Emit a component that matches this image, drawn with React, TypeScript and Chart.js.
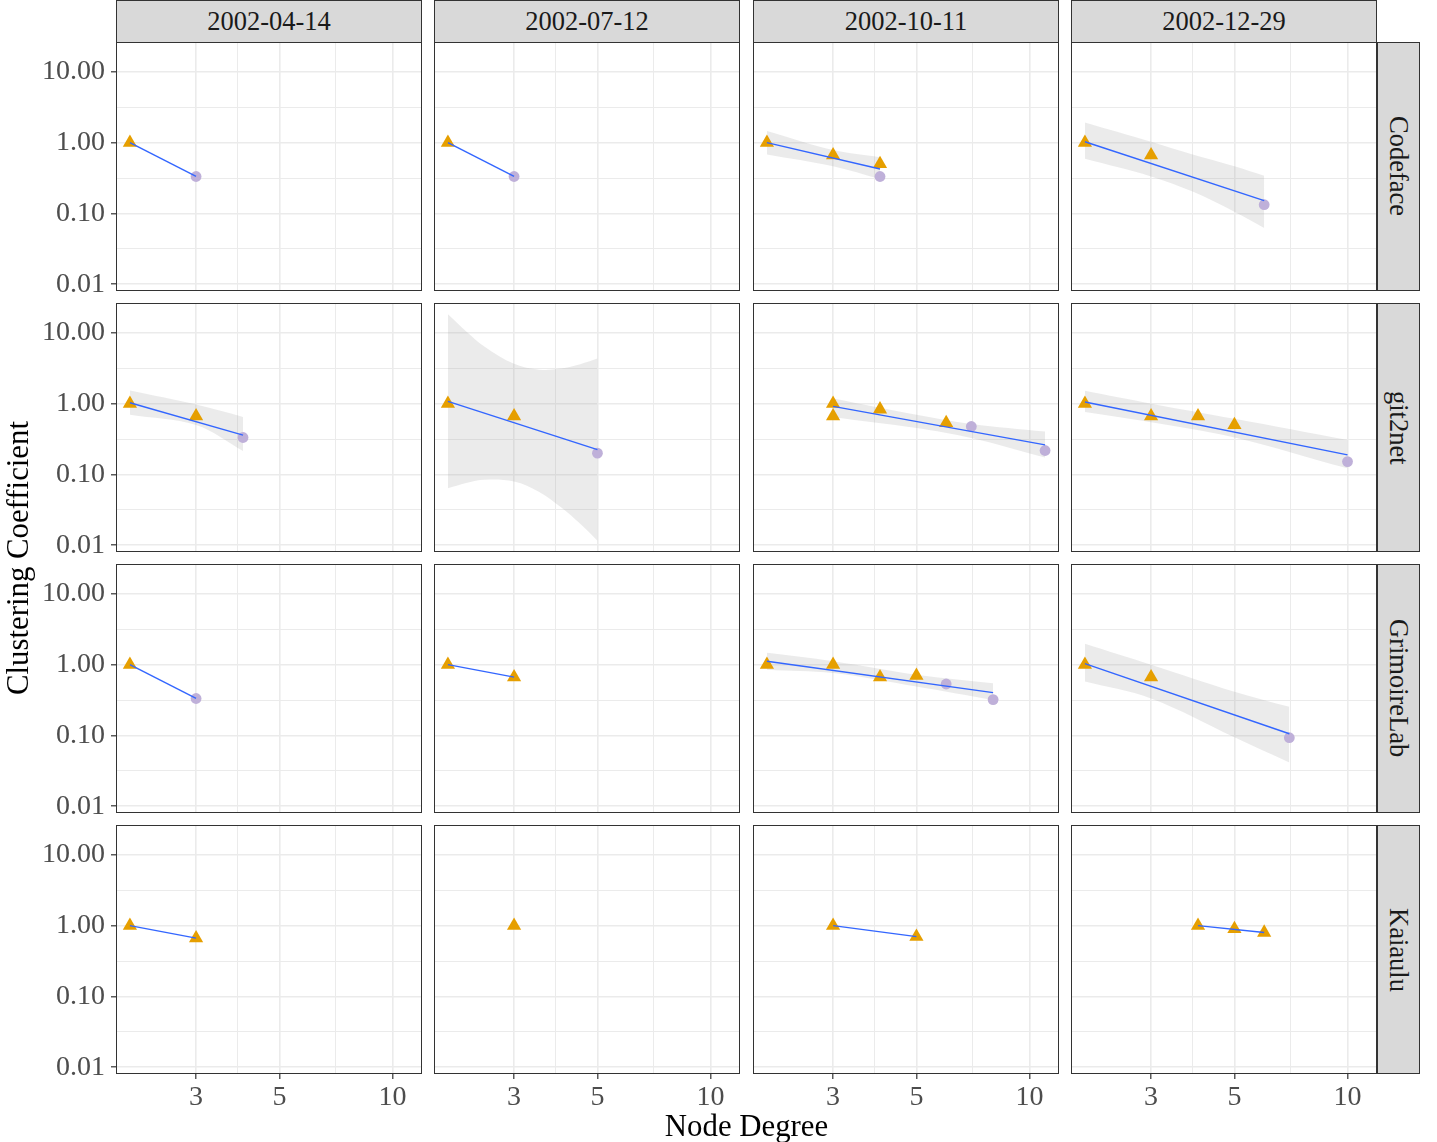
import React, { useEffect, useRef } from "react";
import { Chart, registerables } from "chart.js";

Chart.register(...registerables);

// ---------- data ----------
const projects = ["Codeface", "git2net", "GrimoireLab", "Kaiaulu"];
const dates = ["2002-04-14", "2002-07-12", "2002-10-11", "2002-12-29"];

const xTickValues = [3, 5, 10];
const xTickLabels = ["3", "5", "10"];
const xMinorValues = [3.873, 7.071];
const yTickValues = [0.01, 0.1, 1, 10];
const yTickLabels = ["0.01", "0.10", "1.00", "10.00"];
const yMinorValues = [0.0316, 0.316, 3.162];

// panels in row-major order: project (row) x date (column)
const triangleDegree: number[][] = [
  [2], [2], [2, 3, 4], [2, 3],
  [2, 3], [2, 3], [3, 3, 4, 6], [2, 3, 4, 5],
  [2], [2, 3], [2, 3, 4, 5], [2, 3],
  [2, 3], [3], [3, 5], [4, 5, 6],
];
const triangleCC: number[][] = [
  [1], [1], [1, 0.667, 0.5], [1, 0.667],
  [1, 0.667], [1, 0.667], [1, 0.667, 0.833, 0.533], [1, 0.667, 0.667, 0.5],
  [1], [1, 0.667], [1, 1, 0.667, 0.7], [1, 0.667],
  [1, 0.667], [1], [1, 0.7], [1, 0.9, 0.8],
];
const circleDegree: number[][] = [
  [3], [3], [4], [6],
  [4], [5], [7, 11], [10],
  [3], [], [6, 8], [7],
  [], [], [], [],
];
const circleCC: number[][] = [
  [0.333], [0.333], [0.333], [0.133],
  [0.333], [0.2], [0.476, 0.218], [0.152],
  [0.333], [], [0.533, 0.321], [0.093],
  [], [], [], [],
];
const fitDegree: number[][] = [
  [2, 3], [2, 3], [2, 4], [2, 6],
  [2, 4], [2, 5], [3, 11], [2, 10],
  [2, 3], [2, 3], [2, 8], [2, 7],
  [2, 3], [], [3, 5], [4, 6],
];
const fitCC: number[][] = [
  [1, 0.333], [1, 0.333], [1.0, 0.425], [1.03, 0.152],
  [1.03, 0.36], [1.08, 0.224], [0.916, 0.262], [1.056, 0.189],
  [1, 0.333], [1, 0.667], [1.116, 0.403], [1.033, 0.1057],
  [1, 0.667], [], [1, 0.7], [1.0, 0.8],
];
const bandDegree: number[][] = [
  [], [], [2, 3, 4], [2, 3, 3.87, 5, 6],
  [2, 3, 4], [2, 2.25, 2.5, 3, 3.5, 4, 4.5, 5], [3, 5, 7, 11], [2, 3, 5, 10],
  [], [], [2, 3, 5, 8], [2, 3, 5, 7],
  [], [], [], [],
];
const bandUpper: number[][] = [
  [], [], [1.468, 0.786, 0.624], [1.93, 1.03, 0.68, 0.464, 0.341],
  [1.53, 0.97, 0.65], [18.28, 10.23, 6.43, 3.65, 3.02, 3.13, 3.6, 4.33], [1.179, 0.697, 0.518, 0.403], [1.517, 1.0, 0.61, 0.306],
  [], [], [1.468, 1.116, 0.72, 0.547], [1.974, 1.0, 0.416, 0.254],
  [], [], [], [],
];
const bandLower: number[][] = [
  [], [], [0.681, 0.464, 0.306], [0.591, 0.334, 0.204, 0.1057, 0.0624],
  [0.7, 0.5, 0.215], [0.0638, 0.0764, 0.0844, 0.0795, 0.0567, 0.0344, 0.0201, 0.0116], [0.645, 0.454, 0.327, 0.173], [0.76, 0.547, 0.334, 0.122],
  [], [], [0.848, 0.76, 0.49, 0.316], [0.578, 0.334, 0.0946, 0.0416],
  [], [], [], [],
];

// ---------- layout / style ----------
const X_MIN = 1.8365;
const X_MAX = 11.98;
const Y_MIN = 0.00804;
const Y_MAX = 26.4;

const COL_X = [116, 434, 753, 1071];
const ROW_Y = [42, 303, 564, 825];
const PW = 306;
const PH = 249;
const YAXIS_W = 116;
const XAXIS_H = 60;
const PAD = 18;
const FONT = "'Liberation Serif', 'DejaVu Serif', serif";
const TICK_SIZE = 28;

const ORANGE = "#E69F00";
const LAVENDER = "#BFB0D9";
const LINE = "#3366FF";
const RIBBON = "rgba(153,153,153,0.2)";
const GRID = "#EBEBEB";
const DARK = "#333333";

const borderPlugin = {
  id: "panelBorder",
  afterDraw(chart: any) {
    const { ctx, chartArea: a } = chart;
    ctx.save();
    ctx.strokeStyle = DARK;
    ctx.lineWidth = 1;
    ctx.strokeRect(a.left + 0.5, a.top + 0.5, a.right - a.left - 1, a.bottom - a.top - 1);
    ctx.restore();
  },
};

function makeTicks(major: number[], minor: number[]) {
  return [
    ...major.map((v) => ({ value: v, major: true })),
    ...minor.map((v) => ({ value: v, major: false })),
  ].sort((a, b) => a.value - b.value);
}

function pts(xs: number[], ys: number[]) {
  return xs.map((x, i) => ({ x, y: ys[i] }));
}

function Panel({ idx }: { idx: number }) {
  const ref = useRef<HTMLCanvasElement>(null);
  const row = Math.floor(idx / 4);
  const col = idx % 4;
  const showY = col === 0;
  const showX = row === 3;
  const left = COL_X[col] - (showY ? YAXIS_W : 0);
  const top = ROW_Y[row] - PAD;
  const w = PW + (showY ? YAXIS_W : 0);
  const h = PAD + PH + (showX ? XAXIS_H : PAD);

  useEffect(() => {
    const datasets: any[] = [];
    if (bandDegree[idx].length) {
      datasets.push({
        type: "line",
        data: pts(bandDegree[idx], bandUpper[idx]),
        borderWidth: 0,
        pointRadius: 0,
        fill: false,
        tension: 0.35,
        order: 5,
      });
      datasets.push({
        type: "line",
        data: pts(bandDegree[idx], bandLower[idx]),
        borderWidth: 0,
        pointRadius: 0,
        fill: "-1",
        backgroundColor: RIBBON,
        tension: 0.35,
        order: 4,
      });
    }
    if (fitDegree[idx].length) {
      datasets.push({
        type: "line",
        data: pts(fitDegree[idx], fitCC[idx]),
        borderColor: LINE,
        borderWidth: 1.4,
        pointRadius: 0,
        fill: false,
        order: 1,
      });
    }
    datasets.push({
      type: "line",
      data: pts(triangleDegree[idx], triangleCC[idx]),
      showLine: false,
      pointStyle: "triangle",
      pointRadius: 8.2,
      pointBackgroundColor: ORANGE,
      pointBorderWidth: 0,
      pointBorderColor: ORANGE,
      order: 2,
    });
    datasets.push({
      type: "line",
      data: pts(circleDegree[idx], circleCC[idx]),
      showLine: false,
      pointStyle: "circle",
      pointRadius: 5.4,
      pointBackgroundColor: LAVENDER,
      pointBorderWidth: 0,
      pointBorderColor: LAVENDER,
      order: 3,
    });

    const chart = new Chart(ref.current as HTMLCanvasElement, {
      type: "line",
      data: { datasets },
      plugins: [borderPlugin],
      options: {
        animation: false,
        responsive: false,
        devicePixelRatio: 1,
        layout: {
          autoPadding: false,
          padding: { top: PAD, bottom: showX ? 0 : PAD, left: 0, right: 0 },
        },
        plugins: { legend: { display: false }, tooltip: { enabled: false } },
        scales: {
          x: {
            type: "logarithmic",
            min: X_MIN,
            max: X_MAX,
            bounds: "data",
            afterBuildTicks: (s: any) => {
              s.ticks = makeTicks(xTickValues, xMinorValues);
            },
            afterFit: (s: any) => {
              s.height = showX ? XAXIS_H : 0;
              s.paddingLeft = 0;
              s.paddingRight = 0;
            },
            border: { display: false },
            grid: {
              color: GRID,
              lineWidth: (c: any) => (c.tick && c.tick.major ? 1.6 : 1),
              drawTicks: showX,
              tickLength: 5,
              tickWidth: 1.2,
              tickColor: (c: any) => (c.tick && c.tick.major ? DARK : "rgba(0,0,0,0)"),
            },
            ticks: {
              display: showX,
              autoSkip: false,
              maxRotation: 0,
              padding: 2,
              color: "#4D4D4D",
              font: { family: FONT, size: TICK_SIZE },
              callback: (v: any) => {
                const i = xTickValues.indexOf(Number(v));
                return i >= 0 ? xTickLabels[i] : "";
              },
            },
          },
          y: {
            type: "logarithmic",
            min: Y_MIN,
            max: Y_MAX,
            bounds: "data",
            afterBuildTicks: (s: any) => {
              s.ticks = makeTicks(yTickValues, yMinorValues);
            },
            afterFit: (s: any) => {
              s.width = showY ? YAXIS_W : 0;
              s.paddingTop = 0;
              s.paddingBottom = 0;
            },
            border: { display: false },
            grid: {
              color: GRID,
              lineWidth: (c: any) => (c.tick && c.tick.major ? 1.6 : 1),
              drawTicks: showY,
              tickLength: 5,
              tickWidth: 1.2,
              tickColor: (c: any) => (c.tick && c.tick.major ? DARK : "rgba(0,0,0,0)"),
            },
            ticks: {
              display: showY,
              autoSkip: false,
              padding: 6,
              color: "#4D4D4D",
              font: { family: FONT, size: TICK_SIZE },
              callback: (v: any) => {
                const i = yTickValues.indexOf(Number(v));
                return i >= 0 ? yTickLabels[i] : "";
              },
            },
          },
        },
      } as any,
    });
    return () => chart.destroy();
  }, [idx]);

  return (
    <canvas
      ref={ref}
      width={w}
      height={h}
      style={{ position: "absolute", left, top, width: w, height: h }}
    />
  );
}

const stripBase: React.CSSProperties = {
  position: "absolute",
  boxSizing: "border-box",
  background: "#D9D9D9",
  border: `1px solid ${DARK}`,
  color: "#1A1A1A",
  fontFamily: FONT,
  fontSize: 26.5,
  display: "flex",
  alignItems: "center",
  justifyContent: "center",
  whiteSpace: "nowrap",
};

export default function App() {
  const panels = [];
  for (let i = 0; i < 16; i++) panels.push(<Panel key={i} idx={i} />);
  return (
    <div
      style={{
        position: "fixed",
        left: 0,
        top: 0,
        width: 1437,
        height: 1142,
        background: "#FFFFFF",
        overflow: "hidden",
      }}
    >
      {dates.map((d, c) => (
        <div key={d} style={{ ...stripBase, left: COL_X[c], top: 0, width: PW, height: 43 }}>
          {d}
        </div>
      ))}
      {projects.map((p, r) => (
        <div
          key={p}
          style={{ ...stripBase, left: COL_X[3] + PW, top: ROW_Y[r], width: 43, height: PH }}
        >
          <span style={{ writingMode: "vertical-rl" }}>{p}</span>
        </div>
      ))}
      {panels}
      <div
        style={{
          position: "absolute",
          left: COL_X[0],
          width: COL_X[3] + PW - COL_X[0],
          top: 1108,
          textAlign: "center",
          fontFamily: FONT,
          fontSize: 30.8,
          color: "#000",
          lineHeight: "36px",
        }}
      >
        Node Degree
      </div>
      <div
        style={{
          position: "absolute",
          left: 18 - 300,
          top: 558 - 18,
          width: 600,
          textAlign: "center",
          fontFamily: FONT,
          fontSize: 30.8,
          color: "#000",
          lineHeight: "36px",
          transform: "rotate(-90deg)",
          transformOrigin: "50% 50%",
        }}
      >
        Clustering Coefficient
      </div>
    </div>
  );
}
